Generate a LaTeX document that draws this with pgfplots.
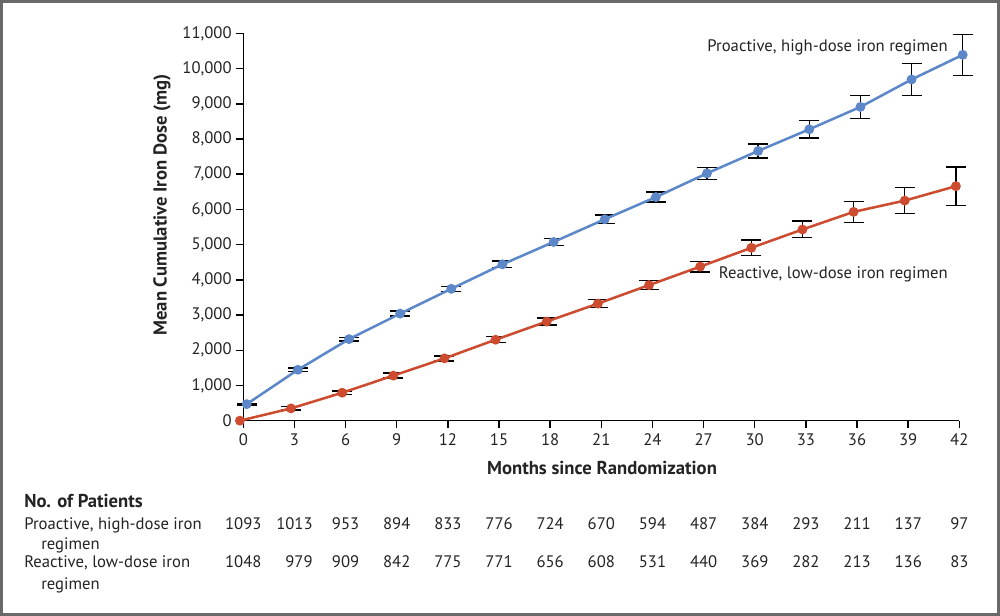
\documentclass[border=0pt]{standalone}
\usepackage{fontspec}
\setmainfont{PT Sans}
\usepackage{pgfplots}
\usepackage{pgfplotstable}
\pgfplotsset{compat=1.18}

\definecolor{problue}{RGB}{92,136,201}
\definecolor{reared}{RGB}{205,76,48}
\definecolor{framegray}{RGB}{105,105,105}
\definecolor{txt}{RGB}{35,35,35}

% mean cumulative dose (mg) and half-width of the error bar
% x is shifted slightly so the two series do not overlap
\pgfplotstableread{
x y e
0.2 470 25
3.2 1446 50
6.2 2316 50
9.2 3040 70
12.2 3745 70
15.2 4440 90
18.2 5075 100
21.2 5720 115
24.2 6350 140
27.2 7025 170
30.2 7660 200
33.2 8275 250
36.2 8910 325
39.2 9690 450
42.2 10390 585
}\proactive

\pgfplotstableread{
x y e
-0.2 0 0
2.8 349 50
5.8 794 50
8.8 1280 70
11.8 1770 70
14.8 2300 85
17.8 2816 95
20.8 3325 110
23.8 3850 130
26.8 4375 150
29.8 4910 225
32.8 5430 235
35.8 5930 300
38.8 6250 370
41.8 6660 550
}\reactive

\newcommand\fs{\fontsize{12.5}{15}\selectfont}
\newcommand\fl{\fontsize{14}{17}\selectfont}
\newcommand\cell[2]{\hphantom{#1}\llap{#2}}

\begin{document}
\begin{tikzpicture}[x=0.75pt,y=0.75pt,font=\fs,text=txt]
\useasboundingbox (0,0) rectangle (1000,616);
\draw[framegray, line width=2.25pt] (1.5,1.5) rectangle (998.5,614.5);

\begin{axis}[
  at={(182.475pt,146.475pt)}, anchor=south west,
  scale only axis, width=537pt, height=290.5pt,
  xmin=0, xmax=42, ymin=0, ymax=11000,
  axis x line*=bottom, axis y line*=left,
  axis line style={line width=1.1pt, black},
  tick align=outside, major tick length=5.25pt,
  tick style={line width=1.1pt, black},
  xtick={0,3,...,42}, ytick={0,1000,...,11000},
  scaled y ticks=false,
  /pgf/number format/assume math mode=true,
  /pgf/number format/1000 sep={,},
  tick label style={font=\fs, text=txt},
  xticklabel style={yshift=-1pt},
  xlabel={Months since Randomization},
  ylabel={Mean Cumulative Iron Dose (mg)},
  label style={font=\fl\bfseries, text=txt},
  xlabel style={at={(axis description cs:0.501,-0.140)}, anchor=base},
  ylabel style={at={(axis description cs:-0.1135,0.557)}, anchor=center},
  clip=false,
]
\addplot[forget plot, draw=none, mark=none,
  error bars/.cd, y dir=both, y explicit,
  error bar style={draw=black, line width=1.1pt},
  error mark options={draw=black, line width=1.1pt, rotate=90, mark size=7.5pt}]
  table[x=x, y=y, y error=e] {\proactive};
\addplot[forget plot, draw=none, mark=none,
  error bars/.cd, y dir=both, y explicit,
  error bar style={draw=black, line width=1.1pt},
  error mark options={draw=black, line width=1.1pt, rotate=90, mark size=7.5pt}]
  table[x=x, y=y, y error=e, skip coords between index={0}{1}] {\reactive};

\addplot[problue, line width=1.9pt, mark=*, mark size=2.7pt] table[x=x, y=y] {\proactive};
\addplot[reared, line width=1.9pt, mark=*, mark size=2.7pt] table[x=x, y=y] {\reactive};
\end{axis}

\node[anchor=base east, inner sep=0pt] at (948,564) {Proactive, high-dose iron regimen};
\node[anchor=base east, inner sep=0pt] at (948,337) {Reactive, low-dose iron regimen};

% numbers at risk
\node[anchor=base west, inner sep=0pt, font=\fl\bfseries] at (24,108) {No. of Patients};
\node[anchor=base west, inner sep=0pt] at (24,86) {Proactive, high-dose iron};
\node[anchor=base west, inner sep=0pt] at (41,66) {regimen};
\node[anchor=base west, inner sep=0pt] at (24,48) {Reactive, low-dose iron};
\node[anchor=base west, inner sep=0pt] at (41,26) {regimen};

\foreach \k/\w/\a/\b in {0/0000/1093/1048, 1/0000/1013/979, 2/000/953/909,
  3/000/894/842, 4/000/833/775, 5/000/776/771, 6/000/724/656, 7/000/670/608,
  8/000/594/531, 9/000/487/440, 10/000/384/369, 11/000/293/282,
  12/000/211/213, 13/000/137/136, 14/00/97/83} {
  \node[anchor=base, inner sep=0pt] at (243.3+51.15*\k,86) {\cell{\w}{\a}};
  \node[anchor=base, inner sep=0pt] at (243.3+51.15*\k,48) {\cell{\w}{\b}};
}
\end{tikzpicture}
\end{document}
